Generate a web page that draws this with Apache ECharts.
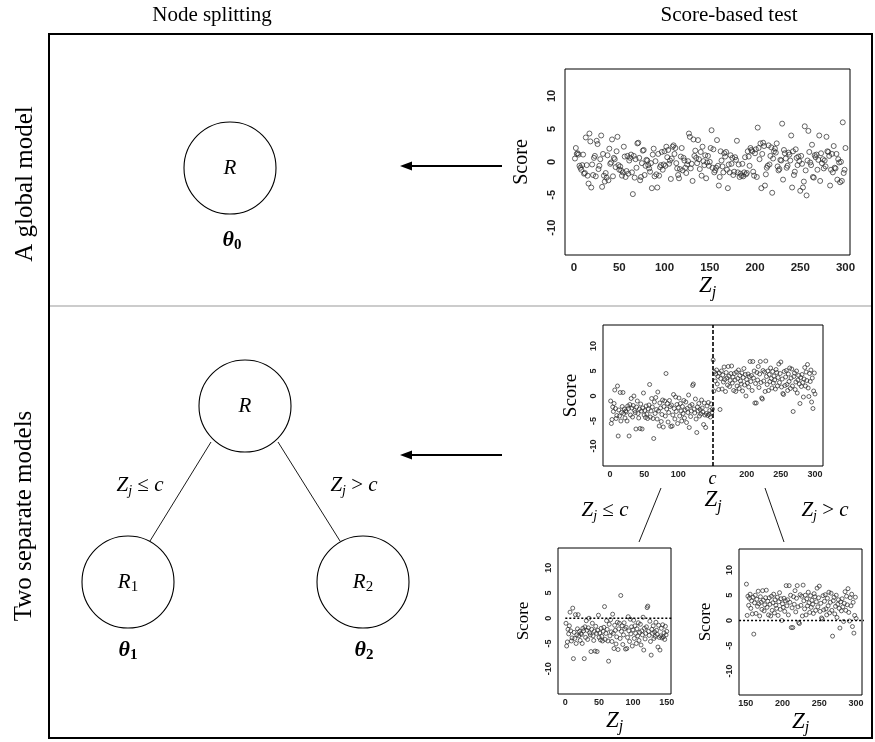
<!DOCTYPE html>
<html>
<head>
<meta charset="utf-8">
<script src="https://cdn.jsdelivr.net/npm/echarts@6/dist/echarts.min.js"></script>
<style>
  html, body { margin: 0; padding: 0; background: #fff; }
  #chart { width: 875px; height: 742px; }
</style>
</head>
<body>
<div id="chart"></div>
<script>
// Score of each observation against the partitioning variable Z_j (j = 1..300), global model
const globalScores = [
  0.5, 2.1, 1.2, 1.3, 1.1, -0.6, -0.9, -1.2, -0.5, 1.1, -1.8, -1.7, 3.7, -0.5, -2.1, -3.3, 4.3, 3.1, -3.9, -0.4,
  -2.0, 0.6, 0.9, -2.2, 3.2, 2.7, -1.1, -0.6, 0.4, 4.0, -3.8, 1.2, -2.1, -3.0, -1.7, -2.4, 1.0, -2.8, 2.0, -0.3,
  -0.1, 3.4, -2.2, 0.6, 0.4, -0.8, 1.6, 3.8, -0.5, -1.2, -0.7, -1.3, -2.1, -1.6, 2.3, 0.8, -2.3, -1.4, 0.9, -1.8,
  0.2, 0.6, 1.1, -1.6, -4.9, 0.9, -2.4, 0.4, -0.9, 2.8, 2.9, 0.6, -2.8, -2.3, -0.2, 1.7, 1.8, -2.0, -0.6, 0.3,
  0.2, -0.5, -1.0, -1.5, -0.2, -4.0, 1.1, 2.0, -2.2, 0.1, -1.9, -3.9, 1.2, -2.1, -0.8, -0.5, 1.5, -1.2, -0.4, 1.6,
  -0.6, 2.3, 0.7, 1.8, -0.3, 0.2, -2.6, 0.5, 2.3, 2.5, 1.2, 2.1, -0.2, -1.0, -2.0, -2.5, -1.1, 0.8, 2.1, -1.3,
  0.6, 0.2, -0.9, -1.7, -0.4, 0.1, 4.3, 3.8, -1.0, -0.3, -2.9, 3.4, 0.9, 1.7, 0.6, -0.2, 3.3, 0.4, -1.1, 1.5,
  -2.1, 2.3, 0.1, -0.5, 1.0, -2.5, -0.1, 0.9, -0.6, 0.0, 2.1, 4.8, -0.9, 1.9, -1.6, -1.3, -0.9, 3.3, -0.6, -3.6,
  -2.3, 1.6, 0.2, -0.7, -1.6, 1.3, 0.8, 1.5, -1.2, -4.0, -0.4, -1.6, 1.0, -0.3, 0.6, -2.0, -1.5, 0.7, 0.3, 3.2,
  -1.6, -0.4, -2.3, -1.8, -2.1, -0.3, -2.2, -1.6, 0.7, -1.9, -1.7, 1.6, 0.8, -0.6, 2.1, 1.8, 1.6, -1.5, -2.1, 1.3,
  1.9, -2.3, 5.2, 2.1, 0.4, 2.8, -4.0, 1.2, 2.9, 2.4, -3.6, -1.9, -0.9, -0.6, 2.5, -0.4, 0.9, 2.2, -4.7, 0.5,
  1.6, 2.0, 1.4, 2.8, -0.7, -1.3, -1.1, 0.3, 0.2, 5.8, -2.7, 1.8, 1.3, 0.5, -0.9, -0.6, 1.4, 1.1, 0.2, 4.0,
  -3.9, 1.6, -2.0, -1.5, 1.9, 0.6, -0.5, 0.8, 0.1, -4.4, 0.9, -0.3, -3.9, -3.0, 5.4, -1.3, -5.1, 0.2, 4.7, 1.5,
  -0.1, -0.5, 2.6, -2.3, -2.4, 1.0, 0.7, 1.1, -1.2, 0.3, 4.0, -2.9, 1.3, -0.2, 0.4, -1.0, 0.2, -0.7, 3.8, 1.6,
  1.5, 0.9, -3.6, -1.2, 1.2, -1.6, 2.4, -0.9, -1.0, 1.2, -2.7, 0.4, -0.1, -3.1, 0.0, -2.9, 6.0, -1.7, -1.2, 2.1
];

// Scores when a split exists: observations with Z_j <= c (j = 1..150)
const scoresBelowSplit = [
  -1.0, -5.5, -4.7, -2.2, -3.1, -1.5, 1.2, -2.5, -4.5, -3.9, 2.0, -8.0, -2.8, -4.0, 0.7, -5.0, -3.3, -2.1, 0.7, -3.5,
  -2.6, -4.4, -3.0, -3.2, -5.0, -2.0, -2.5, -8.0, -1.7, -3.8, -0.5, -2.4, -4.2, -1.9, 0.0, -2.9, -3.3, -6.6, -2.2, -1.0,
  -3.5, -4.4, -2.6, -6.5, -1.6, -3.0, -6.6, -2.4, 0.6, -3.8, -2.9, -4.3, -2.0, -3.6, -4.5, -2.6, -1.8, 2.3, -4.2, -3.0,
  -0.5, -2.2, -4.5, -8.5, -1.2, -3.5, -0.3, -2.7, -4.6, 0.8, -3.0, -6.0, -1.4, -2.4, -5.1, -3.7, -0.8, -6.2, -2.1, -1.0,
  -4.0, 4.5, -2.6, -1.5, -5.2, -3.3, -0.9, -2.1, -6.1, -1.8, -6.0, -3.8, 0.3, -2.5, -4.6, -0.2, -3.1, -1.7, -5.5, -2.3,
  -0.4, -4.0, -1.5, -3.0, -5.0, -2.1, -3.5, -0.9, -4.4, -2.8, -1.2, -5.3, -2.5, -3.3, 0.2, -6.3, -2.0, -4.1, -3.0, -1.7,
  2.1, 2.4, -2.6, -3.4, -0.6, -4.6, -7.3, -2.2, -3.0, -1.5, -4.0, -2.7, -3.6, -0.8, -2.4, -3.2, -5.7, -1.4, -3.8, -6.3,
  -3.5, -2.0, -3.9, -1.3, -3.7, -2.9, -4.2, -1.6, -3.3, -2.6
];

// Observations with Z_j > c (j = 151..300)
const scoresAboveSplit = [
  7.2, 1.0, 4.8, 3.0, 4.4, 5.2, 2.4, 3.9, 1.3, 4.6,
  -2.7, 3.5, 5.0, 1.4, 4.2, 2.8, 5.8, 3.3, 0.9, 4.7, 3.6, 2.2, 5.9, 4.0, 1.9, 3.1, 4.5, 6.0, 2.6, 3.8,
  1.1, 4.5, 3.2, 0.9, 4.8, 2.0, 3.5, 5.2, 1.5, 4.1, 3.0, 2.4, 4.6, 1.0, 3.7, 5.5, 2.2, 4.3, 0.0, 3.3,
  2.6, 4.4, 1.8, 3.9, 6.9, 2.9, 4.1, 1.1, 6.9, 3.6, 5.0, -1.4, 2.5, -1.4, 4.7, 3.2, 5.9, 1.7, 4.4, 6.9,
  2.7, -0.4, -0.6, 5.1, 3.0, 4.8, 0.9, 7.0, 3.9, 2.3, 5.0, 1.1, 4.3, 2.9, 5.6, 3.5, 1.6, 4.9, 2.6, 4.0,
  3.2, 1.4, 5.3, 4.7, 2.0, 3.7, 6.4, 2.7, 4.5, 6.8, 1.8, 3.4, 0.5, 0.3, 4.9, 2.1, 3.8, 5.1, 2.3, 1.1,
  4.4, 2.9, 5.6, 1.5, 3.6, 5.4, 2.0, -3.1, 3.9, 4.6, 1.3, 2.8, 5.0, 0.6, 3.2, 4.1, 2.4, -1.5, 3.7, 1.9,
  4.3, 2.7, -0.2, 3.4, 5.7, 2.0, 4.8, 3.1, 6.3, 1.6, -0.1, 4.5, 2.9, 5.2, -1.2, 3.6, -2.5, 1.0, 4.6, 0.4
];

const splitPoint = 150.5;                 // c
const zTicksFull = [0, 50, 100, 150, 200, 250, 300];
const zTicksBelow = [0, 50, 100, 150];
const zTicksAbove = [150, 200, 250, 300];
const scoreTicks = [-10, -5, 0, 5, 10];

const SERIF = '"Liberation Serif", "Times New Roman", serif';
const SANS = '"Liberation Sans", Arial, sans-serif';

const toPoints = (vals, start) => vals.map((v, i) => [start + i, v]);
const allSplitScores = scoresBelowSplit.concat(scoresAboveSplit);

function zjRich(size) {
  return {
    z: { fontFamily: SERIF, fontStyle: 'italic', fontWeight: 'normal', fontSize: size, lineHeight: size + 6, color: '#000' },
    s: { fontFamily: SERIF, fontStyle: 'italic', fontWeight: 'normal', fontSize: Math.round(size * 0.68),
         lineHeight: Math.round(size * 0.68) + 1, verticalAlign: 'bottom', color: '#000' },
    c: { fontFamily: SERIF, fontStyle: 'italic', fontWeight: 'normal', fontSize: 18, color: '#000' }
  };
}

function xAxisOf(grid, min, max, ticks, fontSize, margin, nameGap, formatter) {
  return {
    type: 'value', gridIndex: grid, min, max,
    axisLine: { show: false }, axisTick: { show: false }, splitLine: { show: false },
    axisLabel: {
      customValues: ticks, fontFamily: SANS, fontWeight: 'bold', fontSize, color: '#222', margin,
      formatter: formatter || (v => String(v)), rich: zjRich(22)
    },
    name: '{z|Z}{s|j}', nameLocation: 'middle', nameGap,
    nameTextStyle: { rich: zjRich(23) }
  };
}

function yAxisOf(grid, min, max, fontSize, margin, nameSize, nameGap) {
  return {
    type: 'value', gridIndex: grid, min, max,
    axisLine: { show: false }, axisTick: { show: false }, splitLine: { show: false },
    axisLabel: {
      customValues: scoreTicks, rotate: 90, fontFamily: SANS, fontWeight: 'bold', fontSize, color: '#222', margin
    },
    name: 'Score', nameLocation: 'middle', nameRotate: 90, nameGap,
    nameTextStyle: { fontFamily: SERIF, fontSize: nameSize, color: '#000' }
  };
}

function scatterOf(idx, pts, size) {
  return {
    type: 'scatter', xAxisIndex: idx, yAxisIndex: idx, data: pts, symbol: 'circle', symbolSize: size,
    itemStyle: { color: 'rgba(0,0,0,0)', borderColor: '#2a2a2a', borderWidth: 0.9 },
    emphasis: { disabled: true }, silent: true
  };
}

function zeroLineOf(idx, from, to) {
  return {
    type: 'line', xAxisIndex: idx, yAxisIndex: idx, clip: false, symbol: 'none', silent: true,
    data: [[from, 0], [to, 0]],
    lineStyle: { color: '#000', width: 1.4, type: [2, 2] }
  };
}

// Diagram helpers
const line = (x1, y1, x2, y2, w, color) => ({
  type: 'line', shape: { x1, y1, x2, y2 }, style: { stroke: color || '#000', lineWidth: w || 1 }, silent: true
});
const node = (cx, cy) => ({
  type: 'circle', shape: { cx, cy, r: 46 }, style: { fill: '#fff', stroke: '#000', lineWidth: 1.1 }, silent: true
});
const label = (x, y, text, rich, extra) => Object.assign({
  type: 'text', x, y, silent: true,
  style: { text, rich, align: 'center', verticalAlign: 'middle', textAlign: 'center', textVerticalAlign: 'middle' }
}, extra || {});
const arrow = (x1, x2, y) => ([
  line(x1, y, x2 + 8, y, 2),
  { type: 'polygon', shape: { points: [[x2, y], [x2 + 12, y - 4.5], [x2 + 12, y + 4.5]] }, style: { fill: '#000' }, silent: true }
]);

const nodeRich = {
  r: { fontFamily: SERIF, fontStyle: 'italic', fontSize: 21, lineHeight: 26, color: '#000' },
  i: { fontFamily: SERIF, fontSize: 15, lineHeight: 16, verticalAlign: 'bottom', color: '#000' }
};
const thetaRich = {
  t: { fontFamily: SERIF, fontStyle: 'italic', fontWeight: 'bold', fontSize: 22, lineHeight: 26, color: '#000' },
  i: { fontFamily: SERIF, fontWeight: 'bold', fontSize: 15, lineHeight: 16, verticalAlign: 'bottom', color: '#000' }
};
const condRich = {
  z: { fontFamily: SERIF, fontStyle: 'italic', fontSize: 21, lineHeight: 26, color: '#000' },
  s: { fontFamily: SERIF, fontStyle: 'italic', fontSize: 14, lineHeight: 15, verticalAlign: 'bottom', color: '#000' },
  o: { fontFamily: SERIF, fontSize: 21, lineHeight: 26, color: '#000' }
};
const plainRich = (size) => ({ p: { fontFamily: SERIF, fontSize: size, color: '#000' } });

const graphics = [
  // frame and divider
  { type: 'rect', shape: { x: 49, y: 34, width: 823, height: 704 }, style: { fill: 'none', stroke: '#000', lineWidth: 2 }, silent: true },
  line(50, 306, 871, 306, 1.2, '#9a9a9a'),
  // column headings
  label(212, 15, '{p|Node splitting}', plainRich(21)),
  label(729, 15, '{p|Score-based test}', plainRich(21)),
  // row headings
  label(25, 184, '{p|A global model}', plainRich(25), { rotation: Math.PI / 2 }),
  label(24, 516, '{p|Two separate models}', plainRich(25), { rotation: Math.PI / 2 }),
  // global model node
  node(230, 168),
  label(230, 168, '{r|R}', nodeRich),
  label(232, 240, '{t|θ}{i|0}', thetaRich),
  // split tree
  line(211, 442, 150, 541, 0.9),
  line(278, 442, 340, 541, 0.9),
  node(245, 406),
  node(128, 582),
  node(363, 582),
  label(245, 406, '{r|R}', nodeRich),
  label(128, 582, '{r|R}{i|1}', nodeRich),
  label(363, 582, '{r|R}{i|2}', nodeRich),
  label(128, 650, '{t|θ}{i|1}', thetaRich),
  label(364, 650, '{t|θ}{i|2}', thetaRich),
  label(140, 485, '{z|Z}{s|j}{o| ≤ }{z|c}', condRich),
  label(354, 485, '{z|Z}{s|j}{o| > }{z|c}', condRich),
  // links from the split score plot to the two child plots
  line(661, 488, 639, 542, 0.9),
  line(765, 488, 784, 542, 0.9),
  label(605, 510, '{z|Z}{s|j}{o| ≤ }{z|c}', condRich),
  label(825, 510, '{z|Z}{s|j}{o| > }{z|c}', condRich)
].concat(arrow(502, 400, 166), arrow(502, 400, 455));

const option = {
  backgroundColor: '#fff',
  animation: false,
  grid: [
    { left: 565, top: 69, width: 285, height: 186, show: true, borderColor: '#000', borderWidth: 1, backgroundColor: '#fff' },
    { left: 603, top: 325, width: 220, height: 141, show: true, borderColor: '#000', borderWidth: 1, backgroundColor: '#fff' },
    { left: 558, top: 548, width: 113, height: 146, show: true, borderColor: '#000', borderWidth: 1, backgroundColor: '#fff' },
    { left: 739, top: 549, width: 123, height: 146, show: true, borderColor: '#000', borderWidth: 1, backgroundColor: '#fff' }
  ],
  xAxis: [
    xAxisOf(0, -10, 305, zTicksFull, 11.5, 7, 8),
    xAxisOf(1, -10.2, 311.7, zTicksFull, 9, 4, 14, v => (v === 150 ? '{c|c}' : String(v))),
    xAxisOf(2, -10.8, 156.3, zTicksBelow, 9, 4, 12),
    xAxisOf(3, 140.9, 308, zTicksAbove, 9, 4, 12)
  ],
  yAxis: [
    yAxisOf(0, -14.15, 14.1, 11, 8, 20, 33),
    yAxisOf(1, -14, 14.2, 9, 5, 19, 22),
    yAxisOf(2, -15, 13.9, 9, 5, 17, 26),
    yAxisOf(3, -14.75, 14.15, 9, 5, 17, 25)
  ],
  series: [
    scatterOf(0, toPoints(globalScores, 1), 5),
    Object.assign(scatterOf(1, toPoints(allSplitScores, 1), 4), {
      markLine: {
        silent: true, symbol: 'none', label: { show: false },
        lineStyle: { color: '#000', width: 1.6, type: [4, 2] },
        data: [{ xAxis: splitPoint }]
      }
    }),
    scatterOf(2, toPoints(scoresBelowSplit, 1), 4),
    zeroLineOf(2, 0, 157.5),
    scatterOf(3, toPoints(scoresAboveSplit, 151), 4),
    zeroLineOf(3, 141, 336)
  ],
  graphic: { elements: graphics }
};

const chart = echarts.init(document.getElementById('chart'), null, { renderer: 'canvas' });
chart.setOption(option);
</script>
</body>
</html>
